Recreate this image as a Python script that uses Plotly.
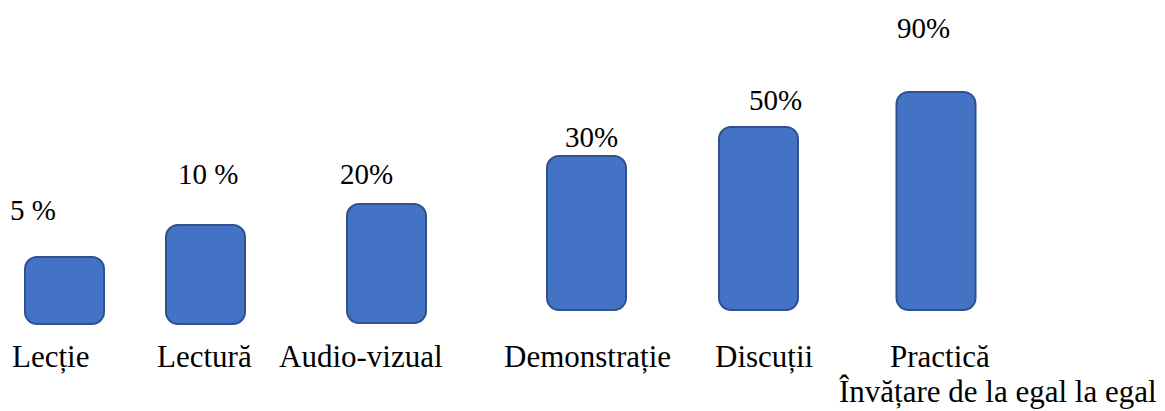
import plotly.graph_objects as go

# ---- data ----
categories = ["Lecție", "Lectură", "Audio-vizual", "Demonstrație", "Discuții",
              "Practică<br>Învățare de la egal la egal"]
pct_labels = ["5 %", "10 %", "20%", "30%", "50%", "90%"]
bar_values = [67, 99, 119, 154, 183, 218]          # drawn bar heights (chart units)

# ---- layout / positions (not data) ----
W, H = 1165, 411
bar_x = [64.5, 205.5, 386.5, 586.5, 758.5, 936]
bar_base = [87, 87, 88, 101, 101, 101]
bar_w = 79
radius = 12
fill = "#4472C4"
edge = "#2F528F"
font_fam = "Liberation Serif"

pct_x = [33, 208, 366, 591, 775, 923]
pct_y = [201, 237, 237, 274, 311, 383]
cat_x = [10, 155, 277, 502, 713, 888]
cat_x2 = 837
cat_y = 74
line_gap = 35

fig = go.Figure()
fig.add_trace(go.Bar(x=bar_x, y=bar_values, base=bar_base, width=bar_w,
                     marker=dict(color=fill, line=dict(color=edge, width=2),
                                 cornerradius=radius),
                     hoverinfo="skip"))

annotations = []
for x, y, t in zip(pct_x, pct_y, pct_labels):
    annotations.append(dict(x=x, y=y, xref="x", yref="y", text=t, showarrow=False,
                            xanchor="center", yanchor="middle",
                            font=dict(family=font_fam, size=29, color="black")))
for i, (x, t) in enumerate(zip(cat_x, categories)):
    lines = t.split("<br>")
    for j, line in enumerate(lines):
        annotations.append(dict(x=x if j == 0 else cat_x2, y=cat_y - j * line_gap,
                                xref="x", yref="y", text=line, showarrow=False,
                                xanchor="left", yanchor="top", align="left",
                                font=dict(family=font_fam, size=31, color="black")))

fig.update_layout(
    width=W, height=H,
    margin=dict(l=0, r=0, t=0, b=0),
    paper_bgcolor="white", plot_bgcolor="white",
    barmode="overlay", showlegend=False,
    font=dict(family=font_fam),
    xaxis=dict(range=[0, W], visible=False, fixedrange=True),
    yaxis=dict(range=[0, H], visible=False, fixedrange=True),
    annotations=annotations,
)

fig.write_html("out.html")
